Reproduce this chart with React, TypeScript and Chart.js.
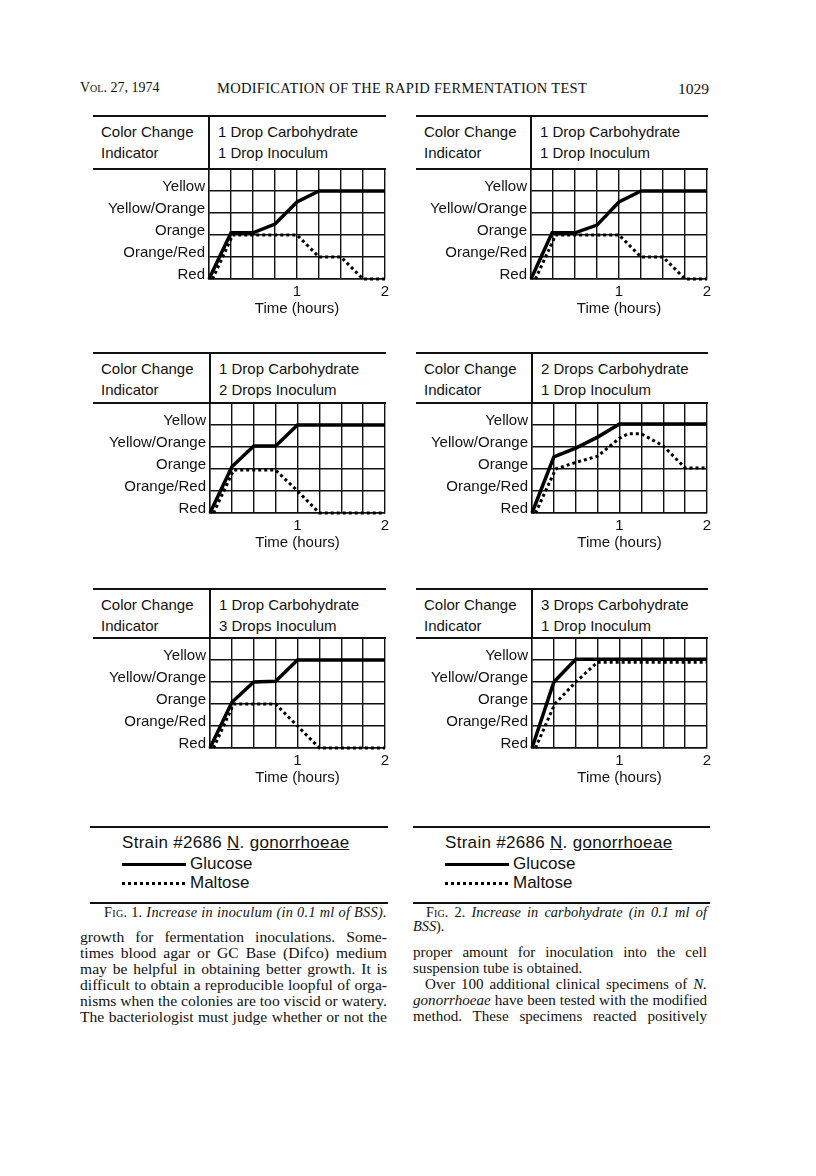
import React, { useEffect, useRef } from "react";
import { Chart, registerables } from "chart.js";

Chart.register(...registerables);

const SANS = '"Liberation Sans", Arial, sans-serif';
const SERIF = '"Liberation Serif", "Times New Roman", serif';

// ---- axis labels ----
const levelLabels = ["Red", "Orange/Red", "Orange", "Yellow/Orange", "Yellow"];
const hourTickValues = [1, 2];
const hourTickLabels = ["1", "2"];

// ---- panel 1: 1 drop carbohydrate, 1 drop inoculum (Fig. 1) ----
const p1GlucoseX = [0, 0.25, 0.5, 0.75, 1.0, 1.25, 2];
const p1GlucoseY = [0, 2.1, 2.1, 2.5, 3.5, 4, 4];
const p1MaltoseX = [0.04, 0.27, 1.0, 1.25, 1.5, 1.75, 2];
const p1MaltoseY = [0, 2, 2, 1, 1, 0, 0];

// ---- panel 2: 1 drop carbohydrate, 1 drop inoculum (Fig. 2) ----
const p2GlucoseX = [0, 0.24, 0.5, 0.75, 1.0, 1.25, 2];
const p2GlucoseY = [0, 2.1, 2.1, 2.45, 3.5, 4, 4];
const p2MaltoseX = [0.05, 0.28, 1.0, 1.25, 1.5, 1.75, 2];
const p2MaltoseY = [0, 2, 2, 1, 1, 0, 0];

// ---- panel 3: 1 drop carbohydrate, 2 drops inoculum ----
const p3GlucoseX = [0, 0.25, 0.5, 0.75, 1.0, 2];
const p3GlucoseY = [0, 2.1, 3.05, 3.05, 4, 4];
const p3MaltoseX = [0.04, 0.27, 0.75, 1.0, 1.25, 2];
const p3MaltoseY = [0, 1.95, 1.95, 1, 0, 0];

// ---- panel 4: 2 drops carbohydrate, 1 drop inoculum ----
const p4GlucoseX = [0, 0.25, 0.5, 0.75, 1.0, 2];
const p4GlucoseY = [0, 2.55, 2.95, 3.45, 4.05, 4.05];
const p4MaltoseX = [0.04, 0.27, 0.5, 0.75, 1.0, 1.1, 1.25, 1.5, 1.75, 2];
const p4MaltoseY = [0, 2, 2.3, 2.58, 3.4, 3.6, 3.6, 3.05, 2.05, 2.05];

// ---- panel 5: 1 drop carbohydrate, 3 drops inoculum ----
const p5GlucoseX = [0, 0.25, 0.5, 0.75, 1.0, 2];
const p5GlucoseY = [0, 2.08, 3, 3.03, 4, 4];
const p5MaltoseX = [0.04, 0.27, 0.75, 1.0, 1.25, 2];
const p5MaltoseY = [0, 2, 2, 1, 0, 0];

// ---- panel 6: 3 drops carbohydrate, 1 drop inoculum ----
const p6GlucoseX = [0, 0.25, 0.5, 2];
const p6GlucoseY = [0, 3, 4.03, 4.03];
const p6MaltoseX = [0.04, 0.26, 0.5, 0.75, 2];
const p6MaltoseY = [0, 2, 3, 3.9, 3.9];

const GRID_H = 110;
const PAD_TOP = 16;
const PAD_RIGHT = 14;
const X_AXIS_H = 39;

type PanelDef = {
  panelLeft: number;
  gridLeft: number;
  gridRight: number;
  headerTop: number;
  gridTop: number;
  carb: string;
  inoc: string;
  gx: number[];
  gy: number[];
  mx: number[];
  my: number[];
};

const panels: PanelDef[] = [
  { panelLeft: 93, gridLeft: 209, gridRight: 385, headerTop: 116, gridTop: 169, carb: "1 Drop Carbohydrate", inoc: "1 Drop Inoculum", gx: p1GlucoseX, gy: p1GlucoseY, mx: p1MaltoseX, my: p1MaltoseY },
  { panelLeft: 416, gridLeft: 531, gridRight: 707, headerTop: 116, gridTop: 169, carb: "1 Drop Carbohydrate", inoc: "1 Drop Inoculum", gx: p2GlucoseX, gy: p2GlucoseY, mx: p2MaltoseX, my: p2MaltoseY },
  { panelLeft: 93, gridLeft: 210, gridRight: 385, headerTop: 353, gridTop: 403, carb: "1 Drop Carbohydrate", inoc: "2 Drops Inoculum", gx: p3GlucoseX, gy: p3GlucoseY, mx: p3MaltoseX, my: p3MaltoseY },
  { panelLeft: 416, gridLeft: 532, gridRight: 707, headerTop: 353, gridTop: 403, carb: "2 Drops Carbohydrate", inoc: "1 Drop Inoculum", gx: p4GlucoseX, gy: p4GlucoseY, mx: p4MaltoseX, my: p4MaltoseY },
  { panelLeft: 93, gridLeft: 210, gridRight: 385, headerTop: 589, gridTop: 638, carb: "1 Drop Carbohydrate", inoc: "3 Drops Inoculum", gx: p5GlucoseX, gy: p5GlucoseY, mx: p5MaltoseX, my: p5MaltoseY },
  { panelLeft: 416, gridLeft: 532, gridRight: 707, headerTop: 589, gridTop: 638, carb: "3 Drops Carbohydrate", inoc: "1 Drop Inoculum", gx: p6GlucoseX, gy: p6GlucoseY, mx: p6MaltoseX, my: p6MaltoseY },
];

const INK = "#111";

function T(props: {
  x: number;
  base: number;
  size: number;
  family?: string;
  children: React.ReactNode;
  style?: React.CSSProperties;
  width?: number;
  justify?: boolean;
  right?: boolean;
}) {
  const { x, base, size, family = SANS, children, style, width, justify, right } = props;
  const s: React.CSSProperties = {
    position: "absolute",
    top: base - 0.84 * size,
    fontFamily: family,
    fontSize: size,
    lineHeight: `${size}px`,
    color: INK,
    whiteSpace: "nowrap",
    ...style,
  };
  if (right) {
    s.right = 816 - x;
  } else {
    s.left = x;
  }
  if (width !== undefined) s.width = width;
  if (justify) {
    s.textAlign = "justify";
    (s as any).textAlignLast = "justify";
  }
  return <div style={s}>{children}</div>;
}

function HLine({ x1, x2, y, h = 2 }: { x1: number; x2: number; y: number; h?: number }) {
  return <div style={{ position: "absolute", left: x1, top: y - h / 2, width: x2 - x1, height: h, background: INK }} />;
}

function VLine({ x, y1, y2, w = 1.5 }: { x: number; y1: number; y2: number; w?: number }) {
  return <div style={{ position: "absolute", left: x - w / 2, top: y1, width: w, height: y2 - y1, background: INK }} />;
}

function Panel({ p }: { p: PanelDef }) {
  const ref = useRef<HTMLCanvasElement | null>(null);
  const cw = p.gridRight + PAD_RIGHT - p.panelLeft;
  const ch = PAD_TOP + GRID_H + X_AXIS_H;
  useEffect(() => {
    if (!ref.current) return;
    const yWidth = p.gridLeft - p.panelLeft;
    const font = { family: SANS, size: 15 };
    const gridStyle = { color: INK, lineWidth: 1.4, drawTicks: false };
    const chart = new Chart(ref.current, {
      type: "line",
      data: {
        datasets: [
          {
            label: "Maltose",
            data: p.mx.map((x, i) => ({ x, y: p.my[i] })),
            borderColor: "#000",
            borderWidth: 3,
            borderDash: [3, 3],
            borderCapStyle: "butt",
            pointRadius: 0,
            tension: 0,
            fill: false,
            clip: false as any,
            order: 0,
          },
          {
            label: "Glucose",
            data: p.gx.map((x, i) => ({ x, y: p.gy[i] })),
            borderColor: "#000",
            borderWidth: 3.5,
            borderJoinStyle: "miter",
            pointRadius: 0,
            tension: 0,
            fill: false,
            clip: false as any,
            order: 1,
          },
        ],
      },
      options: {
        animation: false,
        responsive: false,
        maintainAspectRatio: false,
        layout: { padding: { top: PAD_TOP, right: PAD_RIGHT, left: 0, bottom: 0 } },
        plugins: { legend: { display: false }, tooltip: { enabled: false } },
        scales: {
          x: {
            type: "linear",
            min: 0,
            max: 2,
            grid: gridStyle,
            border: { display: true, color: INK, width: 1.4 },
            ticks: {
              stepSize: 0.25,
              autoSkip: false,
              maxRotation: 0,
              minRotation: 0,
              padding: 4,
              color: INK,
              font,
              callback: (v: any) => {
                const i = hourTickValues.indexOf(Number(v));
                return i >= 0 ? hourTickLabels[i] : "";
              },
            },
            title: {
              display: true,
              text: "Time (hours)",
              color: INK,
              font,
              padding: { top: 0, bottom: 0 },
            },
            afterFit: (s: any) => {
              s.height = X_AXIS_H;
            },
          },
          y: {
            type: "linear",
            min: 0,
            max: 5,
            grid: gridStyle,
            border: { display: true, color: INK, width: 1.4 },
            ticks: {
              stepSize: 1,
              autoSkip: false,
              padding: 4,
              labelOffset: -4,
              color: INK,
              font,
              callback: (v: any) => levelLabels[Number(v)] ?? "",
            },
            afterFit: (s: any) => {
              s.width = yWidth;
            },
          },
        },
      } as any,
    });
    return () => chart.destroy();
  }, []);

  const hl = p.headerTop;
  return (
    <>
      <HLine x1={p.panelLeft} x2={p.gridRight + 1} y={hl} h={2} />
      <VLine x={p.gridLeft} y1={hl} y2={p.gridTop} w={1.6} />
      <HLine x1={p.panelLeft} x2={p.gridRight + 1} y={p.gridTop} h={1.6} />
      <T x={p.panelLeft + 8} base={hl + 21} size={15}>Color Change</T>
      <T x={p.panelLeft + 8} base={hl + 42} size={15}>Indicator</T>
      <T x={p.gridLeft + 9} base={hl + 21} size={15}>{p.carb}</T>
      <T x={p.gridLeft + 9} base={hl + 42} size={15}>{p.inoc}</T>
      <canvas
        ref={ref}
        width={cw}
        height={ch}
        style={{ position: "absolute", left: p.panelLeft, top: p.gridTop - PAD_TOP, width: cw, height: ch, display: "block" }}
      />
    </>
  );
}

function Legend({ x1, x2, textX }: { x1: number; x2: number; textX: number }) {
  return (
    <>
      <HLine x1={x1} x2={x2} y={827} h={2} />
      <T x={textX} base={848} size={17} style={{ letterSpacing: 0.3 }}>
        Strain #2686 <span style={{ textDecoration: "underline" }}>N</span>.{" "}
        <span style={{ textDecoration: "underline" }}>gonorrhoeae</span>
      </T>
      <div style={{ position: "absolute", left: textX, top: 862.5, width: 64, height: 3.2, background: "#000" }} />
      <T x={textX + 68} base={869} size={17}>Glucose</T>
      <div
        style={{
          position: "absolute",
          left: textX,
          top: 881.5,
          width: 64,
          height: 3,
          background: "repeating-linear-gradient(90deg, #000 0px, #000 3px, transparent 3px, transparent 6px)",
        }}
      />
      <T x={textX + 68} base={888} size={17}>Maltose</T>
      <HLine x1={x1} x2={x2} y={903} h={2} />
    </>
  );
}

const leftBody = [
  "growth for fermentation inoculations. Some-",
  "times blood agar or GC Base (Difco) medium",
  "may be helpful in obtaining better growth. It is",
  "difficult to obtain a reproducible loopful of orga-",
  "nisms when the colonies are too viscid or watery.",
  "The bacteriologist must judge whether or not the",
];

const BODY = 15.6;
const BODY_R = 15.1;
const CAP = 14.3;

export default function App() {
  return (
    <div
      style={{
        position: "absolute",
        left: 0,
        top: 0,
        width: 816,
        height: 1176,
        background: "#fff",
        overflow: "hidden",
      }}
    >
      {/* running head */}
      <T x={80} base={93} size={14} family={SERIF} style={{ fontVariant: "small-caps" }}>
        Vol. 27, 1974
      </T>
      <T x={217} base={93} size={14.5} family={SERIF} style={{ letterSpacing: 0.3 }}>
        MODIFICATION OF THE RAPID FERMENTATION TEST
      </T>
      <T x={709} base={94} size={15.5} family={SERIF} right>
        1029
      </T>

      {panels.map((p, i) => (
        <Panel key={i} p={p} />
      ))}

      <Legend x1={90} x2={388} textX={122} />
      <Legend x1={413} x2={710} textX={445} />

      {/* captions */}
      <T x={104} base={917} size={CAP} family={SERIF} style={{ letterSpacing: 0.3 }}>
        <span style={{ fontVariant: "small-caps" }}>Fig.</span> 1. <i>Increase in inoculum (in 0.1 ml of BSS).</i>
      </T>
      <T x={426} base={917} size={CAP} family={SERIF} width={281} justify style={{ letterSpacing: 0.1 }}>
        <span style={{ fontVariant: "small-caps" }}>Fig.</span> 2. <i>Increase in carbohydrate (in 0.1 ml of</i>
      </T>
      <T x={413} base={931} size={CAP} family={SERIF}>
        <i>BSS</i>).
      </T>

      {/* body text, left column */}
      {leftBody.map((line, i) => (
        <T key={i} x={80} base={942 + i * 16} size={BODY} family={SERIF} width={307} justify>
          {line}
        </T>
      ))}

      {/* body text, right column */}
      <T x={413} base={958} size={BODY_R} family={SERIF} width={294} justify>
        proper amount for inoculation into the cell
      </T>
      <T x={413} base={974} size={BODY_R} family={SERIF}>
        suspension tube is obtained.
      </T>
      <T x={425} base={990} size={BODY_R} family={SERIF} width={282} justify>
        Over 100 additional clinical specimens of <i>N.</i>
      </T>
      <T x={413} base={1006} size={BODY_R} family={SERIF} width={294} justify>
        <i>gonorrhoeae</i> have been tested with the modified
      </T>
      <T x={413} base={1022} size={BODY_R} family={SERIF} width={294} justify>
        method. These specimens reacted positively
      </T>
    </div>
  );
}
